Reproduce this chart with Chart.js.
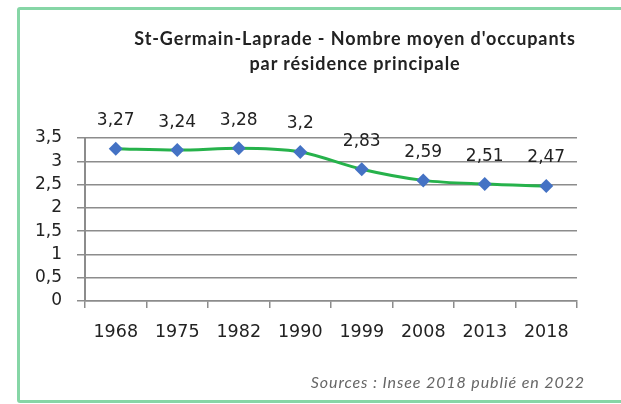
<!DOCTYPE html>
<html>
<head>
<meta charset="utf-8">
<script src="https://cdn.jsdelivr.net/npm/chart.js@4"></script>
<style>
  body { margin: 0; background: #fff; }
  #boite { position: relative; width: 621px; height: 404px; overflow: hidden; }
  #cadre {
    position: absolute; left: 17px; top: 7px; width: 660px; height: 396px;
    border: 3px solid #86d6a6; border-radius: 3px; box-sizing: border-box;
  }
  #titre {
    position: absolute; left: 60px; width: 590px; top: 26px;
    text-align: center; font: bold 18px Lato, sans-serif; letter-spacing: 0.9px;
    line-height: 25px; color: #222;
  }
  #source {
    position: absolute; right: 36px; top: 372px;
    font: italic 16px Lato, sans-serif; letter-spacing: 0.9px; color: #666;
  }
  #graficoLigne { position: absolute; left: 0; top: 0; }
</style>
</head>
<body>
<div id="boite">
  <div id="cadre"></div>
  <canvas id="graficoLigne" width="621" height="404"></canvas>
  <div id="titre">St-Germain-Laprade - Nombre moyen d'occupants<br>par résidence principale</div>
  <div id="source">Sources : Insee 2018 publié en 2022</div>
</div>
<script>
// données
const annees = ['1968', '1975', '1982', '1990', '1999', '2008', '2013', '2018'];
const occupants = [3.27, 3.24, 3.28, 3.2, 2.83, 2.59, 2.51, 2.47];
const etiquettes = ['3,27', '3,24', '3,28', '3,2', '2,83', '2,59', '2,51', '2,47'];
const graduations = [0, 0.5, 1, 1.5, 2, 2.5, 3, 3.5];

const police = "DejaVu Sans";

// valeurs au-dessus des points
const valeursPlugin = {
    id: 'valeurs',
    afterDatasetsDraw(chart) {
        const ctx = chart.ctx;
        const meta = chart.getDatasetMeta(0);
        ctx.save();
        ctx.font = '17px ' + police;
        ctx.fillStyle = '#222';
        ctx.textAlign = 'center';
        ctx.textBaseline = 'middle';
        meta.data.forEach((pt, i) => {
            ctx.fillText(etiquettes[i], pt.x, pt.y - 28);
        });
        ctx.restore();
    }
};

const ctx = document.getElementById('graficoLigne').getContext('2d');
const chart = new Chart(ctx, {
    type: 'line',
    data: {
        labels: annees,
        datasets: [{
            data: occupants,
            borderColor: '#26b24b',
            borderWidth: 3,
            cubicInterpolationMode: 'monotone',
            pointStyle: 'rectRot',
            pointRadius: 7,
            pointBackgroundColor: '#4472c4',
            pointBorderColor: '#4472c4',
            pointBorderWidth: 0
        }]
    },
    options: {
        responsive: false,
        animation: false,
        layout: { padding: { left: 0, right: 44, top: 138, bottom: 43 } },
        plugins: {
            legend: { display: false },
            tooltip: { enabled: false }
        },
        scales: {
            y: {
                min: 0,
                max: 3.5,
                afterFit(scale) { scale.width = 85; },
                afterBuildTicks(scale) {
                    scale.ticks = graduations.map(v => ({ value: v }));
                },
                ticks: {
                    autoSkip: false,
                    color: '#222',
                    padding: 15,
                    font: { family: police, size: 17 },
                    callback: v => String(v).replace('.', ',')
                },
                grid: { color: '#8c8c8c', lineWidth: 1.5, tickLength: 8 },
                border: { color: '#8c8c8c', width: 2 }
            },
            x: {
                offset: true,
                afterFit(scale) { scale.height = 60; },
                ticks: {
                    autoSkip: false,
                    color: '#222',
                    padding: 14,
                    font: { family: police, size: 17.5 }
                },
                grid: { offset: true, drawOnChartArea: false, color: '#8c8c8c', lineWidth: 1.5, tickLength: 7 },
                border: { color: '#8c8c8c', width: 1.5 }
            }
        }
    },
    plugins: [valeursPlugin]
});
</script>
</body>
</html>
